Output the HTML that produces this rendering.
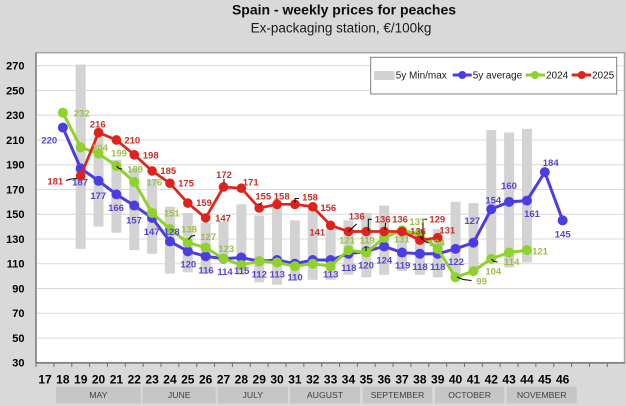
<!DOCTYPE html>
<html><head><meta charset="utf-8"><style>
html,body{margin:0;padding:0;background:#d9d9d9;}
svg{display:block;}
text{font-family:"Liberation Sans",Arial,sans-serif;}
.yl{font-size:11px;font-weight:bold;fill:#000;text-anchor:end;}
.xl{font-size:12px;font-weight:bold;fill:#000;text-anchor:middle;}
.ml{font-size:8.7px;fill:#404040;text-anchor:middle;}
.b{font-size:9.5px;font-weight:bold;fill:#5246d6;text-anchor:middle;}
.g{font-size:9.5px;font-weight:bold;fill:#9cbf45;text-anchor:middle;}
.r{font-size:9.5px;font-weight:bold;fill:#cc2f28;text-anchor:middle;}
.lg{font-size:10px;fill:#1a1a1a;}
</style></head><body>
<svg width="626" height="406" viewBox="0 0 626 406" xmlns="http://www.w3.org/2000/svg">
<rect x="0" y="0" width="626" height="406" fill="#d9d9d9"/>
<text x="344" y="14.5" style="font-size:14px;font-weight:bold;fill:#0d0d0d;text-anchor:middle">Spain - weekly prices for peaches</text>
<text x="341" y="32.5" style="font-size:13.5px;fill:#1a1a1a;text-anchor:middle">Ex-packaging station, €/100kg</text>

<!-- plot area -->
<rect x="36" y="52.7" width="588.5" height="310" fill="#fff" stroke="#a6a6a6" stroke-width="1.5"/>
<!-- gridlines -->
<g stroke="#d9d9d9" stroke-width="1">
<line x1="36" x2="624" y1="337.95" y2="337.95"/>
<line x1="36" x2="624" y1="313.2" y2="313.2"/>
<line x1="36" x2="624" y1="288.45" y2="288.45"/>
<line x1="36" x2="624" y1="263.7" y2="263.7"/>
<line x1="36" x2="624" y1="238.95" y2="238.95"/>
<line x1="36" x2="624" y1="214.2" y2="214.2"/>
<line x1="36" x2="624" y1="189.45" y2="189.45"/>
<line x1="36" x2="624" y1="164.7" y2="164.7"/>
<line x1="36" x2="624" y1="139.95" y2="139.95"/>
<line x1="36" x2="624" y1="115.2" y2="115.2"/>
<line x1="36" x2="624" y1="90.45" y2="90.45"/>
<line x1="36" x2="624" y1="65.7" y2="65.7"/>
</g>
<!-- axes -->
<line x1="36" y1="52.7" x2="36" y2="363.2" stroke="#6e6e6e" stroke-width="1.2"/>
<line x1="35.5" y1="363" x2="625" y2="363" stroke="#6e6e6e" stroke-width="1.2"/>
<g stroke="#6e6e6e" stroke-width="1">
<line x1="36.07" x2="36.07" y1="363" y2="367"/><line x1="53.92" x2="53.92" y1="363" y2="367"/><line x1="71.77" x2="71.77" y1="363" y2="367"/><line x1="89.62" x2="89.62" y1="363" y2="367"/><line x1="107.47" x2="107.47" y1="363" y2="367"/><line x1="125.32" x2="125.32" y1="363" y2="367"/><line x1="143.17" x2="143.17" y1="363" y2="367"/><line x1="161.02" x2="161.02" y1="363" y2="367"/><line x1="178.87" x2="178.87" y1="363" y2="367"/><line x1="196.72" x2="196.72" y1="363" y2="367"/><line x1="214.57" x2="214.57" y1="363" y2="367"/><line x1="232.42" x2="232.42" y1="363" y2="367"/><line x1="250.27" x2="250.27" y1="363" y2="367"/><line x1="268.12" x2="268.12" y1="363" y2="367"/><line x1="285.97" x2="285.97" y1="363" y2="367"/><line x1="303.82" x2="303.82" y1="363" y2="367"/><line x1="321.67" x2="321.67" y1="363" y2="367"/><line x1="339.52" x2="339.52" y1="363" y2="367"/><line x1="357.37" x2="357.37" y1="363" y2="367"/><line x1="375.22" x2="375.22" y1="363" y2="367"/><line x1="393.07" x2="393.07" y1="363" y2="367"/><line x1="410.92" x2="410.92" y1="363" y2="367"/><line x1="428.77" x2="428.77" y1="363" y2="367"/><line x1="446.62" x2="446.62" y1="363" y2="367"/><line x1="464.47" x2="464.47" y1="363" y2="367"/><line x1="482.32" x2="482.32" y1="363" y2="367"/><line x1="500.17" x2="500.17" y1="363" y2="367"/><line x1="518.02" x2="518.02" y1="363" y2="367"/><line x1="535.87" x2="535.87" y1="363" y2="367"/><line x1="553.72" x2="553.72" y1="363" y2="367"/><line x1="571.57" x2="571.57" y1="363" y2="367"/><line x1="589.42" x2="589.42" y1="363" y2="367"/><line x1="607.27" x2="607.27" y1="363" y2="367"/>
</g>
<!-- y labels -->
<g class="yl">
<text x="24.5" y="366.7">30</text><text x="24.5" y="341.9">50</text><text x="24.5" y="317.2">70</text><text x="24.5" y="292.4">90</text><text x="24.5" y="267.7">110</text><text x="24.5" y="242.9">130</text><text x="24.5" y="218.2">150</text><text x="24.5" y="193.4">170</text><text x="24.5" y="168.7">190</text><text x="24.5" y="143.9">210</text><text x="24.5" y="119.2">230</text><text x="24.5" y="94.4">250</text><text x="24.5" y="69.7">270</text>
</g>
<!-- x labels -->
<g class="xl">
<text x="45" y="383.5">17</text><text x="62.85" y="383.5">18</text><text x="80.7" y="383.5">19</text><text x="98.55" y="383.5">20</text><text x="116.4" y="383.5">21</text><text x="134.25" y="383.5">22</text><text x="152.1" y="383.5">23</text><text x="169.95" y="383.5">24</text><text x="187.8" y="383.5">25</text><text x="205.65" y="383.5">26</text><text x="223.5" y="383.5">27</text><text x="241.35" y="383.5">28</text><text x="259.2" y="383.5">29</text><text x="277.05" y="383.5">30</text><text x="294.9" y="383.5">31</text><text x="312.75" y="383.5">32</text><text x="330.6" y="383.5">33</text><text x="348.45" y="383.5">34</text><text x="366.3" y="383.5">35</text><text x="384.15" y="383.5">36</text><text x="402" y="383.5">37</text><text x="419.85" y="383.5">38</text><text x="437.7" y="383.5">39</text><text x="455.55" y="383.5">40</text><text x="473.4" y="383.5">41</text><text x="491.25" y="383.5">42</text><text x="509.1" y="383.5">43</text><text x="526.95" y="383.5">44</text><text x="544.8" y="383.5">45</text><text x="562.65" y="383.5">46</text>
</g>
<!-- months -->
<g fill="#c6c6c6">
<rect x="56" y="386.5" width="84.7" height="17"/>
<rect x="142.7" y="386.5" width="73" height="17"/>
<rect x="217.7" y="386.5" width="70.3" height="17"/>
<rect x="290" y="386.5" width="70" height="17"/>
<rect x="362.7" y="386.5" width="69.6" height="17"/>
<rect x="435" y="386.5" width="69.3" height="17"/>
<rect x="506.7" y="386.5" width="70" height="17"/>
</g>
<g class="ml">
<text x="98.3" y="398">MAY</text><text x="179.2" y="398">JUNE</text><text x="252.8" y="398">JULY</text><text x="325" y="398">AUGUST</text><text x="397.5" y="398">SEPTEMBER</text><text x="469.6" y="398">OCTOBER</text><text x="541.7" y="398">NOVEMBER</text>
</g>

<!-- bars -->
<g fill="#d3d3d3">
<rect x="75.7" y="64.46" width="10" height="184.39"/>
<rect x="93.55" y="132.52" width="10" height="94.06"/>
<rect x="111.4" y="159.75" width="10" height="73.01"/>
<rect x="129.25" y="168.41" width="10" height="81.68"/>
<rect x="147.1" y="179.55" width="10" height="74.25"/>
<rect x="164.95" y="206.77" width="10" height="66.83"/>
<rect x="182.8" y="212.96" width="10" height="59.4"/>
<rect x="200.65" y="222.86" width="10" height="50.74"/>
<rect x="218.5" y="221.62" width="10" height="39.6"/>
<rect x="236.35" y="204.3" width="10" height="70.54"/>
<rect x="254.2" y="215.44" width="10" height="66.82"/>
<rect x="272.05" y="206.77" width="10" height="77.97"/>
<rect x="289.9" y="220.39" width="10" height="59.4"/>
<rect x="307.75" y="205.54" width="10" height="74.25"/>
<rect x="325.6" y="229.05" width="10" height="50.74"/>
<rect x="343.45" y="220.39" width="10" height="54.45"/>
<rect x="361.3" y="212.96" width="10" height="64.35"/>
<rect x="379.15" y="205.54" width="10" height="69.3"/>
<rect x="397" y="229.05" width="10" height="42.07"/>
<rect x="414.85" y="230.29" width="10" height="44.55"/>
<rect x="432.7" y="229.05" width="10" height="48.26"/>
<rect x="450.55" y="201.82" width="10" height="75.49"/>
<rect x="468.4" y="203.06" width="10" height="69.3"/>
<rect x="486.25" y="130.05" width="10" height="129.94"/>
<rect x="504.1" y="132.52" width="10" height="134.89"/>
<rect x="521.95" y="128.81" width="10" height="133.65"/>
</g>

<!-- blue 5y average -->
<polyline fill="none" stroke="#4b3de6" stroke-width="3" stroke-linejoin="round" points="62.85,127.58 80.7,168.41 98.55,180.79 116.4,194.4 134.25,205.54 152.1,217.91 169.95,241.42 187.8,251.33 205.65,256.27 223.5,258.75 241.35,257.51 259.2,261.22 277.05,259.99 294.9,263.7 312.75,259.99 330.6,259.99 348.45,253.8 366.3,251.33 384.15,246.37 402,252.56 419.85,253.8 437.7,253.8 455.55,248.85 473.4,242.66 491.25,209.25 509.1,201.82 526.95,200.59 544.8,172.12 562.65,220.39"/>
<g fill="#4b3de6">
<circle cx="62.85" cy="127.58" r="5"/><circle cx="80.7" cy="168.41" r="5"/><circle cx="98.55" cy="180.79" r="5"/><circle cx="116.4" cy="194.4" r="5"/><circle cx="134.25" cy="205.54" r="5"/><circle cx="152.1" cy="217.91" r="5"/><circle cx="169.95" cy="241.42" r="5"/><circle cx="187.8" cy="251.33" r="5"/><circle cx="205.65" cy="256.27" r="5"/><circle cx="223.5" cy="258.75" r="5"/><circle cx="241.35" cy="257.51" r="5"/><circle cx="259.2" cy="261.22" r="5"/><circle cx="277.05" cy="259.99" r="5"/><circle cx="294.9" cy="263.7" r="5"/><circle cx="312.75" cy="259.99" r="5"/><circle cx="330.6" cy="259.99" r="5"/><circle cx="348.45" cy="253.8" r="5"/><circle cx="366.3" cy="251.33" r="5"/><circle cx="384.15" cy="246.37" r="5"/><circle cx="402" cy="252.56" r="5"/><circle cx="419.85" cy="253.8" r="5"/><circle cx="437.7" cy="253.8" r="5"/><circle cx="455.55" cy="248.85" r="5"/><circle cx="473.4" cy="242.66" r="5"/><circle cx="491.25" cy="209.25" r="5"/><circle cx="509.1" cy="201.82" r="5"/><circle cx="526.95" cy="200.59" r="5"/><circle cx="544.8" cy="172.12" r="5"/><circle cx="562.65" cy="220.39" r="5"/>
</g>

<!-- green 2024 -->
<polyline fill="none" stroke="#8ed22a" stroke-width="3" stroke-linejoin="round" points="62.85,112.72 80.7,147.37 98.55,153.56 116.4,165.94 134.25,182.02 152.1,212.96 169.95,229.05 187.8,242.66 205.65,247.61 223.5,258.75 241.35,264.94 259.2,261.22 277.05,262.46 294.9,266.17 312.75,263.7 330.6,266.17 348.45,250.09 366.3,252.56 384.15,237.71 402,230.29 419.85,234 437.7,248.85 455.55,277.31 473.4,271.12 491.25,258.75 509.1,252.56 526.95,250.09"/>
<g fill="#8ed22a">
<circle cx="62.85" cy="112.72" r="5"/><circle cx="80.7" cy="147.37" r="5"/><circle cx="98.55" cy="153.56" r="5"/><circle cx="116.4" cy="165.94" r="5"/><circle cx="134.25" cy="182.02" r="5"/><circle cx="152.1" cy="212.96" r="5"/><circle cx="169.95" cy="229.05" r="5"/><circle cx="187.8" cy="242.66" r="5"/><circle cx="205.65" cy="247.61" r="5"/><circle cx="223.5" cy="258.75" r="5"/><circle cx="241.35" cy="264.94" r="5"/><circle cx="259.2" cy="261.22" r="5"/><circle cx="277.05" cy="262.46" r="5"/><circle cx="294.9" cy="266.17" r="5"/><circle cx="312.75" cy="263.7" r="5"/><circle cx="330.6" cy="266.17" r="5"/><circle cx="348.45" cy="250.09" r="5"/><circle cx="366.3" cy="252.56" r="5"/><circle cx="384.15" cy="237.71" r="5"/><circle cx="402" cy="230.29" r="5"/><circle cx="419.85" cy="234" r="5"/><circle cx="437.7" cy="248.85" r="5"/><circle cx="455.55" cy="277.31" r="5"/><circle cx="473.4" cy="271.12" r="5"/><circle cx="491.25" cy="258.75" r="5"/><circle cx="509.1" cy="252.56" r="5"/><circle cx="526.95" cy="250.09" r="5"/>
</g>

<!-- red 2025 -->
<polyline fill="none" stroke="#e0231a" stroke-width="2.7" stroke-linejoin="round" points="80.7,175.84 98.55,132.52 116.4,139.95 134.25,154.8 152.1,170.89 169.95,183.26 187.8,203.06 205.65,217.91 223.5,186.97 241.35,188.21 259.2,208.01 277.05,204.3 294.9,204.3 312.75,206.77 330.6,225.34 348.45,231.52 366.3,231.52 384.15,231.52 402,231.52 419.85,240.19 437.7,237.71"/>
<g fill="#e0231a">
<circle cx="80.7" cy="175.84" r="4.8"/><circle cx="98.55" cy="132.52" r="4.8"/><circle cx="116.4" cy="139.95" r="4.8"/><circle cx="134.25" cy="154.8" r="4.8"/><circle cx="152.1" cy="170.89" r="4.8"/><circle cx="169.95" cy="183.26" r="4.8"/><circle cx="187.8" cy="203.06" r="4.8"/><circle cx="205.65" cy="217.91" r="4.8"/><circle cx="223.5" cy="186.97" r="4.8"/><circle cx="241.35" cy="188.21" r="4.8"/><circle cx="259.2" cy="208.01" r="4.8"/><circle cx="277.05" cy="204.3" r="4.8"/><circle cx="294.9" cy="204.3" r="4.8"/><circle cx="312.75" cy="206.77" r="4.8"/><circle cx="330.6" cy="225.34" r="4.8"/><circle cx="348.45" cy="231.52" r="4.8"/><circle cx="366.3" cy="231.52" r="4.8"/><circle cx="384.15" cy="231.52" r="4.8"/><circle cx="402" cy="231.52" r="4.8"/><circle cx="419.85" cy="240.19" r="4.8"/><circle cx="437.7" cy="237.71" r="4.8"/>
</g>

<!-- leader lines -->
<g stroke="#000" stroke-width="1" fill="none">
<polyline points="66,180.5 71,179 77,178.5"/>
<polyline points="116.7,166 119,168.5 122,169"/>
<polyline points="188.5,239.5 191.5,236 195,235.5"/>
<line x1="224" y1="183" x2="224" y2="179"/>
<line x1="258.5" y1="205" x2="262" y2="202.5"/>
<polyline points="295,203 295,198.5 299,198.5"/>
<line x1="348.5" y1="231.5" x2="356.5" y2="224"/>
<polyline points="372,219.3 368.3,219.3 368.3,231"/>
<line x1="385.5" y1="222.5" x2="385" y2="230"/>
<polyline points="427,219.3 423,219.3 423,238"/>
<polyline points="420,236.5 424,241 428.5,243"/>
<line x1="366" y1="246" x2="366" y2="251"/>
<polyline points="457,277 463,279.5 471.5,280.5"/>
<polyline points="491.5,259 494,261.5 497.5,262"/>
</g>

<!-- blue labels -->
<g class="b">
<text x="49.3" y="143.4">220</text><text x="80" y="185.7">187</text><text x="98.3" y="199.1">177</text><text x="116" y="211.1">166</text><text x="134" y="223.4">157</text><text x="151.7" y="235.1">147</text><text x="171.7" y="235.1">128</text><text x="188.3" y="267.7">120</text><text x="206" y="273.4">116</text><text x="225" y="275.1">114</text><text x="241.7" y="274.1">115</text><text x="259.3" y="277.4">112</text><text x="277.3" y="277.4">113</text><text x="295" y="280.7">110</text><text x="330.7" y="277.4">113</text><text x="348.8" y="271">118</text><text x="366" y="268.4">120</text><text x="384.3" y="263.4">124</text><text x="402.7" y="268.4">119</text><text x="420" y="270.1">118</text><text x="437.7" y="270.1">118</text><text x="456" y="265.1">122</text><text x="472.3" y="224.1">127</text><text x="493.3" y="203.4">154</text><text x="509" y="189.1">160</text><text x="532" y="217.1">161</text><text x="550.7" y="166.1">184</text><text x="562.7" y="237.4">145</text>
</g>
<!-- green labels -->
<g class="g">
<text x="81.7" y="116.7">232</text><text x="100" y="151.1">204</text><text x="119" y="156.7">199</text><text x="135" y="172.7">189</text><text x="154.3" y="185.7">176</text><text x="171.7" y="216.7">151</text><text x="189" y="232.4">138</text><text x="208.3" y="240.1">127</text><text x="226.3" y="251.9">123</text><text x="347" y="243.4">121</text><text x="367.3" y="243.4">119</text><text x="401.7" y="242.7">131</text><text x="417.3" y="225.1">137</text><text x="436.7" y="246.1">134</text><text x="481.7" y="284.4">99</text><text x="493.3" y="274.4">104</text><text x="511.7" y="265.1">114</text><text x="540" y="254.4">121</text>
</g>
<!-- red labels -->
<g class="r">
<text x="55.3" y="184.4">181</text><text x="97.7" y="127.7">216</text><text x="132.3" y="143.7">210</text><text x="150.7" y="158.4">198</text><text x="168.3" y="174.1">185</text><text x="186" y="186.7">175</text><text x="204" y="206.1">159</text><text x="223" y="221.7">147</text><text x="224" y="177.9">172</text><text x="250.7" y="185.7">171</text><text x="263.3" y="199.4">155</text><text x="281.7" y="199.4">158</text><text x="310" y="200.7">158</text><text x="328.3" y="211.1">156</text><text x="317.3" y="235.7">141</text><text x="356.7" y="219.4">136</text><text x="382.7" y="222.7">136</text><text x="400" y="222.7">136</text><text x="418" y="234.4">136</text><text x="437.3" y="222.7">129</text><text x="447.3" y="233.4">131</text>
</g>

<!-- legend -->
<rect x="370.7" y="57.3" width="246" height="36.7" fill="#fff" stroke="#7f7f7f" stroke-width="1"/>
<rect x="374" y="71" width="20.5" height="9" fill="#d3d3d3"/>
<text class="lg" x="395.7" y="78.6">5y Min/max</text>
<line x1="452.7" y1="75" x2="471.7" y2="75" stroke="#4b3de6" stroke-width="3"/>
<circle cx="462.3" cy="75" r="4" fill="#4b3de6"/>
<text class="lg" x="472.7" y="78.6">5y average</text>
<line x1="525.7" y1="75" x2="545" y2="75" stroke="#8ed22a" stroke-width="3"/>
<circle cx="535" cy="75" r="4" fill="#8ed22a"/>
<text class="lg" x="546" y="78.6">2024</text>
<line x1="571.7" y1="75" x2="591" y2="75" stroke="#e0231a" stroke-width="3"/>
<circle cx="581.7" cy="75" r="4" fill="#e0231a"/>
<text class="lg" x="592" y="78.6">2025</text>
</svg>
</body></html>
